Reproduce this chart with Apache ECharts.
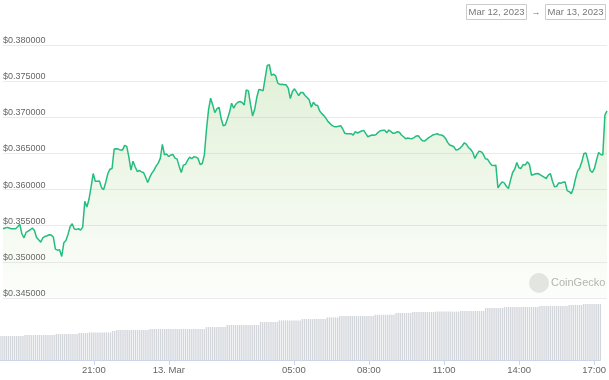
<!DOCTYPE html>
<html>
<head>
<meta charset="utf-8">
<script src="https://cdn.jsdelivr.net/npm/echarts@6/dist/echarts.min.js"></script>
<style>
html,body{margin:0;padding:0;background:#fff;}
#chart{width:609px;height:380px;}
</style>
</head>
<body>
<div id="chart"></div>
<script>
// Time: 5-minute steps starting 12 Mar 2023 17:15 (hours counted from 12 Mar 00:00)
const startHour = 17.25;
const stepMinutes = 5;

// Price (USD), one value per 5-minute step
const prices = [
0.35458,0.35468,0.35477,0.35468,0.35458,0.35458,0.35458,0.35486,0.35519,0.35389,
0.35333,0.35407,0.35426,0.35444,0.35468,0.35435,0.35338,0.35305,0.35273,0.35333,
0.35352,0.35361,0.35375,0.35370,0.35343,0.35176,0.35162,0.35167,0.35074,0.35264,
0.35296,0.35380,0.35486,0.35528,0.35454,0.35449,0.35458,0.35440,0.35481,0.35838,
0.35759,0.35866,0.36037,0.36222,0.36116,0.36116,0.36120,0.36023,0.36000,0.36102,
0.36222,0.36282,0.36292,0.36560,0.36565,0.36560,0.36546,0.36546,0.36611,0.36597,
0.36453,0.36268,0.36393,0.36315,0.36250,0.36264,0.36245,0.36236,0.36171,0.36097,
0.36171,0.36227,0.36268,0.36324,0.36366,0.36431,0.36625,0.36482,0.36491,0.36458,
0.36477,0.36486,0.36435,0.36421,0.36324,0.36236,0.36338,0.36347,0.36403,0.36449,
0.36426,0.36454,0.36449,0.36431,0.36347,0.36361,0.36477,0.36824,0.37102,0.37264,
0.37171,0.37065,0.37116,0.37139,0.36986,0.36884,0.36893,0.36977,0.37069,0.37194,
0.37125,0.37181,0.37208,0.37218,0.37204,0.37171,0.37380,0.37366,0.37181,0.37018,
0.37111,0.37273,0.37384,0.37380,0.37366,0.37542,0.37718,0.37727,0.37579,0.37597,
0.37574,0.37472,0.37454,0.37458,0.37449,0.37449,0.37403,0.37259,0.37357,0.37394,
0.37347,0.37301,0.37343,0.37343,0.37301,0.37273,0.37241,0.37139,0.37208,0.37171,
0.37162,0.37088,0.37051,0.37023,0.36986,0.36940,0.36912,0.36884,0.36870,0.36870,
0.36875,0.36884,0.36838,0.36778,0.36773,0.36773,0.36773,0.36755,0.36801,0.36782,
0.36796,0.36810,0.36819,0.36773,0.36731,0.36745,0.36755,0.36750,0.36764,0.36796,
0.36815,0.36819,0.36819,0.36787,0.36824,0.36801,0.36778,0.36782,0.36801,0.36792,
0.36755,0.36731,0.36704,0.36713,0.36708,0.36704,0.36718,0.36741,0.36745,0.36708,
0.36676,0.36671,0.36694,0.36718,0.36736,0.36755,0.36764,0.36773,0.36759,0.36755,
0.36741,0.36708,0.36653,0.36616,0.36606,0.36592,0.36546,0.36555,0.36574,0.36606,
0.36648,0.36625,0.36579,0.36555,0.36514,0.36431,0.36491,0.36532,0.36523,0.36491,
0.36426,0.36421,0.36375,0.36338,0.36333,0.36338,0.36023,0.36069,0.36106,0.36093,
0.36046,0.36014,0.36130,0.36236,0.36282,0.36375,0.36301,0.36292,0.36347,0.36338,
0.36384,0.36347,0.36199,0.36208,0.36218,0.36222,0.36208,0.36190,0.36171,0.36153,
0.36199,0.36222,0.36116,0.36037,0.36046,0.36093,0.36088,0.36102,0.36106,0.35986,
0.35972,0.35944,0.36023,0.36153,0.36259,0.36301,0.36384,0.36500,0.36505,0.36393,
0.36264,0.36236,0.36292,0.36407,0.36514,0.36486,0.36477,0.37032,0.37088
];

// 24h volume (billion USD), one value per 5-minute step
const volumes = [
1.20,1.20,1.20,1.20,1.20,1.20,1.20,1.20,1.20,1.20,1.20,1.20,
1.25,1.25,1.25,1.25,1.25,1.25,1.25,1.25,1.25,1.25,1.25,1.25,1.25,1.25,1.25,
1.30,1.30,1.30,1.30,1.30,1.30,1.30,1.30,1.30,1.30,1.30,
1.35,1.35,1.35,1.35,1.35,
1.38,1.38,1.38,1.38,1.38,1.38,1.38,1.38,1.38,1.38,1.38,
1.45,1.45,
1.50,1.50,1.50,1.50,1.50,1.50,1.50,1.50,1.50,1.50,1.50,1.50,1.50,1.50,1.50,1.50,
1.55,1.55,1.55,1.55,1.55,1.55,1.55,1.55,1.55,1.55,1.55,1.55,1.55,1.55,1.55,1.55,1.55,1.55,1.55,1.55,1.55,1.55,1.55,1.55,1.55,1.55,1.55,
1.65,1.65,1.65,1.65,1.65,1.65,1.65,1.65,1.65,1.65,
1.75,1.75,1.75,1.75,1.75,1.75,1.75,1.75,1.75,1.75,1.75,1.75,1.75,1.75,1.75,1.75,
1.90,1.90,1.90,1.90,1.90,1.90,1.90,1.90,1.90,
1.98,1.98,1.98,1.98,1.98,1.98,1.98,1.98,1.98,1.98,1.98,
2.05,2.05,2.05,2.05,2.05,2.05,2.05,2.05,2.05,2.05,2.05,2.05,
2.13,2.13,2.13,2.13,2.13,2.13,
2.20,2.20,2.20,2.20,2.20,2.20,2.20,2.20,2.20,2.20,2.20,2.20,2.20,2.20,2.20,2.20,2.20,
2.26,2.26,2.26,2.26,2.26,2.26,2.26,2.26,2.26,2.26,
2.35,2.35,2.35,2.35,2.35,2.35,2.35,2.35,
2.40,2.40,2.40,2.40,2.40,2.40,2.40,2.40,2.40,2.40,2.40,
2.42,2.42,2.42,2.42,2.42,2.42,2.42,2.42,2.42,2.42,2.42,2.42,
2.45,2.45,2.45,2.45,2.45,2.45,2.45,2.45,2.45,2.45,2.45,2.45,
2.60,2.60,2.60,2.60,2.60,2.60,2.60,2.60,2.60,
2.65,2.65,2.65,2.65,2.65,2.65,2.65,2.65,2.65,2.65,2.65,2.65,2.65,2.65,2.65,2.65,2.65,
2.70,2.70,2.70,2.70,2.70,2.70,2.70,2.70,2.70,2.70,2.70,2.70,2.70,2.70,
2.75,2.75,2.75,2.75,2.75,2.75,2.75,
2.80,2.80,2.80,2.80,2.80,2.80,2.80,2.80,2.80
];

// X-axis tick labels (hour positions counted from 12 Mar 00:00)
const xTickHours = [21, 24, 29, 32, 35, 38, 41];
const xTickLabels = ['21:00', '13. Mar', '05:00', '08:00', '11:00', '14:00', '17:00'];

// Y-axis (price) ticks
const priceMin = 0.345, priceMax = 0.380, priceStep = 0.005;

const dateFrom = 'Mar 12, 2023';
const dateTo = 'Mar 13, 2023';
const brand = 'CoinGecko';

const priceData = prices.map((p, i) => [startHour + i * stepMinutes / 60, p]);
const volumeData = volumes.map((v, i) => [startHour + i * stepMinutes / 60, v]);
const xMin = startHour, xMax = startHour + 24;

const chart = echarts.init(document.getElementById('chart'), null, {renderer: 'canvas'});
const FONT = 'Liberation Sans';

chart.setOption({
  animation: false,
  backgroundColor: '#ffffff',
  grid: [
    {left: 0, right: 2, top: 45, bottom: 82, containLabel: false},
    {left: 0, right: 2, top: 297, bottom: 20, containLabel: false}
  ],
  xAxis: [
    {type: 'value', gridIndex: 0, min: xMin, max: xMax, show: false},
    {
      type: 'value', gridIndex: 1, min: xMin, max: xMax,
      splitLine: {show: false},
      axisLine: {show: true, lineStyle: {color: '#ccd6eb', width: 1}},
      axisTick: {show: true, customValues: xTickHours, length: 5, lineStyle: {color: '#ccd6eb'}},
      axisLabel: {
        customValues: xTickHours,
        formatter: v => { const i = xTickHours.findIndex(h => Math.abs(h - v) < 1e-6); return i >= 0 ? xTickLabels[i] : ''; },
        color: '#666666', fontSize: 9.5, fontFamily: FONT, margin: 5
      }
    }
  ],
  yAxis: [
    {
      type: 'value', gridIndex: 0, min: priceMin, max: priceMax, interval: priceStep,
      axisLine: {show: false}, axisTick: {show: false},
      splitLine: {lineStyle: {color: '#ebebeb', width: 1}},
      axisLabel: {
        inside: true, margin: 0, verticalAlign: 'bottom', align: 'left',
        color: '#666666', fontSize: 9, fontFamily: FONT,
        formatter: v => '$' + v.toFixed(6)
      }
    },
    {type: 'value', gridIndex: 1, min: 0, max: 3.15, show: false}
  ],
  series: [
    {
      type: 'bar', xAxisIndex: 1, yAxisIndex: 1, data: volumeData,
      barWidth: 1.4, itemStyle: {color: '#d3d6db'}, silent: true, z: 1
    },
    {
      type: 'line', xAxisIndex: 0, yAxisIndex: 0, data: priceData,
      showSymbol: false, symbol: 'none', smooth: false,
      lineStyle: {color: '#25bd7f', width: 1.5},
      areaStyle: {
        color: new echarts.graphic.LinearGradient(0, 0, 0, 1, [
          {offset: 0, color: 'rgba(130,195,90,0.34)'},
          {offset: 1, color: 'rgba(130,195,90,0.03)'}
        ])
      },
      z: 3
    }
  ],
  graphic: [
    {type: 'rect', shape: {x: 466.5, y: 4.5, width: 60, height: 15}, style: {fill: '#fff', stroke: '#cccccc', lineWidth: 1}},
    {type: 'text', x: 496.5, y: 12.5, style: {text: dateFrom, fill: '#777', font: '9.5px ' + FONT, align: 'center', verticalAlign: 'middle'}},
    {type: 'text', x: 536, y: 12.5, style: {text: '→', fill: '#777', font: '9px ' + FONT, align: 'center', verticalAlign: 'middle'}},
    {type: 'rect', shape: {x: 545.5, y: 4.5, width: 60, height: 15}, style: {fill: '#fff', stroke: '#cccccc', lineWidth: 1}},
    {type: 'text', x: 575.5, y: 12.5, style: {text: dateTo, fill: '#777', font: '9.5px ' + FONT, align: 'center', verticalAlign: 'middle'}},
    {type: 'circle', shape: {cx: 539, cy: 283, r: 10}, style: {fill: '#e6e6e6'}},
    {type: 'text', x: 551, y: 283, style: {text: brand, fill: '#b5b5b5', font: '11px ' + FONT, align: 'left', verticalAlign: 'middle'}}
  ]
});
</script>
</body>
</html>
